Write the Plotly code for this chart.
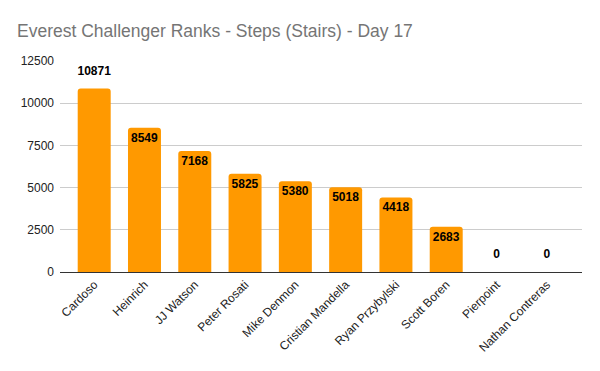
import plotly.graph_objects as go

names = ["Cardoso", "Heinrich", "JJ Watson", "Peter Rosati", "Mike Denmon",
         "Cristian Mandella", "Ryan Przybylski", "Scott Boren", "Pierpoint", "Nathan Contreras"]
steps = [10871, 8549, 7168, 5825, 5380, 5018, 4418, 2683, 0, 0]
y_ticks = [0, 2500, 5000, 7500, 10000, 12500]

outside = [v > 10000 or v == 0 for v in steps]
in_text = ["" if o else str(v) for v, o in zip(steps, outside)]
out_names = [n for n, o in zip(names, outside) if o]
out_vals = [v for v, o in zip(steps, outside) if o]

lblfont = dict(family="Liberation Sans, Arial", size=12, color="#000000", weight="bold")

# page body adds an 8px offset; margins compensate for it
OFF = 8

fig = go.Figure()
fig.add_trace(go.Bar(
    x=names, y=steps,
    marker=dict(color="#ff9900", line=dict(width=0), cornerradius=3),
    text=in_text,
    textposition="inside",
    insidetextanchor="end",
    textangle=0,
    constraintext="none",
    textfont=lblfont, insidetextfont=lblfont,
    cliponaxis=False,
    hoverinfo="x+y",
))
fig.add_trace(go.Scatter(
    x=out_names, y=out_vals,
    mode="markers+text",
    marker=dict(size=16, opacity=0),
    text=[str(v) for v in out_vals],
    textposition="top center",
    textfont=lblfont,
    cliponaxis=False,
    hoverinfo="skip",
))

fig.update_layout(
    width=600, height=371,
    margin=dict(l=60 - OFF, r=18 + OFF, t=61 - OFF, b=99 + OFF, autoexpand=False),
    paper_bgcolor="white", plot_bgcolor="white",
    bargap=0.344,
    showlegend=False,
    title=dict(text="Everest Challenger Ranks - Steps (Stairs) - Day 17",
               x=(17 - OFF) / 600, xanchor="left", y=1 - (31 - OFF) / 371, yanchor="middle",
               font=dict(family="Liberation Sans, Arial", size=17.5, color="#757575")),
    font=dict(family="Liberation Sans, Arial", size=12, color="#222222"),
    uniformtext=dict(minsize=12, mode="show"),
)
fig.update_xaxes(tickangle=-45, showline=True, linecolor="#333333", linewidth=1,
                 range=[-0.68, 9.7], ticks="", automargin=False,
                 tickfont=dict(size=12, color="#222222"))
fig.update_yaxes(range=[0, 12500], tickvals=y_ticks, ticktext=[str(t) for t in y_ticks],
                 showgrid=True, gridcolor="#cccccc", gridwidth=1, zeroline=False,
                 ticks="", automargin=False, ticklabelstandoff=5,
                 tickfont=dict(size=12, color="#222222"))

fig.write_html("out.html")
